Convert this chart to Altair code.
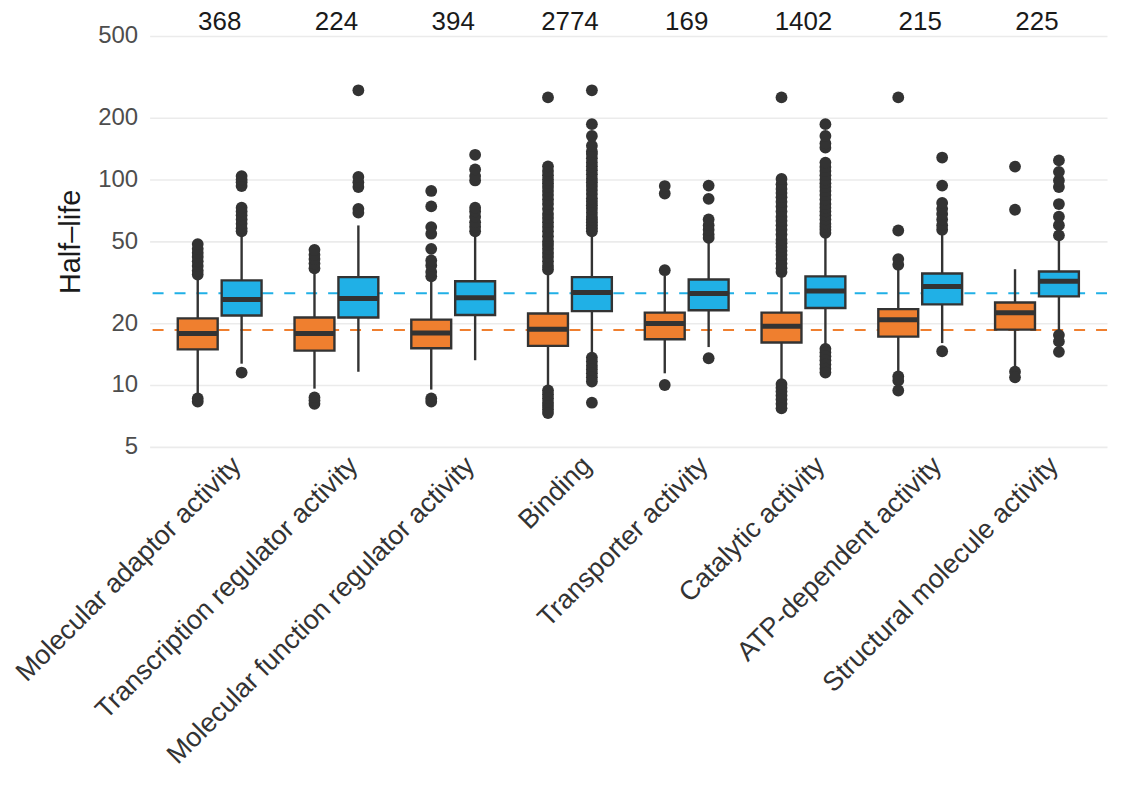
import altair as alt
import pandas as pd

categories = [
    "Molecular adaptor activity",
    "Transcription regulator activity",
    "Molecular function regulator activity",
    "Binding",
    "Transporter activity",
    "Catalytic activity",
    "ATP-dependent activity",
    "Structural molecule activity",
]
counts = [368, 224, 394, 2774, 169, 1402, 215, 225]
groups = ["Group A", "Group B"]
colors = ["#EF7F2F", "#20B0E6"]
ref_values = [18.5, 28.0]

# orange boxes (Group A)
a_lo = [9.1, 9.6, 9.5, 9.8, 11.4, 10.4, 11.6, 12.3]
a_q1 = [14.9, 14.7, 15.1, 15.5, 16.7, 16.1, 17.2, 18.6]
a_med = [17.8, 17.8, 17.9, 18.7, 19.9, 19.3, 20.8, 22.5]
a_q3 = [21.1, 21.3, 20.8, 22.3, 22.5, 22.5, 23.4, 25.2]
a_hi = [33.5, 35.5, 32.3, 35.5, 34.0, 34.9, 36.5, 36.6]
a_out = [
    [34.5, 36, 38, 40, 42, 44, 46, 48.5, 8.3, 8.6],
    [37, 39, 41, 43, 45.5, 8.1, 8.4, 8.7],
    [33.8, 35.5, 38.2, 40.4, 46, 54.5, 58.7, 74, 88, 8.3, 8.6],
    [36.5, 38, 40, 42, 44, 46, 48, 50, 53, 56, 59, 62, 65, 68, 72, 76, 80,
     84, 88, 92, 96, 100, 105, 110, 116, 251, 9.4, 9.0, 8.6, 8.2, 7.9, 7.6, 7.3],
    [36.2, 85.5, 93, 10.0],
    [35.5, 37, 39, 41, 43, 45, 47, 49, 51, 54, 57, 60, 63, 66, 70, 74, 78,
     82, 86, 90, 95, 100.7, 251, 10.1, 9.7, 9.3, 8.9, 8.5, 8.1, 7.7],
    [38.5, 41, 56.5, 251, 11.0, 10.5, 9.4],
    [71.3, 115.6, 11.6, 10.9],
]

# blue boxes (Group B)
b_lo = [12.7, 11.6, 13.2, 14.0, 15.3, 15.5, 16.0, 18.5]
b_q1 = [21.8, 21.3, 21.9, 22.9, 23.1, 23.7, 24.7, 27.0]
b_med = [26.1, 26.4, 26.6, 28.2, 27.9, 28.7, 30.2, 32.0]
b_q3 = [32.3, 33.5, 32.0, 33.5, 32.6, 33.8, 34.9, 35.7]
b_hi = [53.5, 59.8, 53.5, 54.5, 50.6, 53.5, 55.5, 50.6]
b_out = [
    [11.5, 56, 58, 61, 64, 67, 70, 73, 93, 97, 100, 104],
    [69, 72, 92, 97, 103, 272],
    [56, 59, 62, 66, 70, 73, 99, 104, 112, 132],
    [56, 58, 60, 62, 64, 66, 69, 72, 75, 78, 81, 85, 89, 93, 97, 101, 106,
     111, 116, 121, 127, 133, 137, 146, 163, 186, 272,
     13.6, 13.0, 12.4, 11.9, 11.4, 10.9, 10.4, 8.2],
    [52, 54, 57, 60, 64, 80.6, 93.5, 13.5],
    [55, 57, 59, 61, 64, 67, 70, 73, 76, 80, 84, 88, 92, 96, 100, 105, 110,
     115, 121, 143, 150, 163, 186, 15.0, 14.4, 13.8, 13.2, 12.6, 12.0, 11.5],
    [57, 60, 64, 68, 72, 77, 93.5, 128, 14.6],
    [53.5, 60, 66, 76, 92, 99, 109, 124, 17.5, 16.3, 14.5],
]

# ---- tables built from the arrays ----
box_rows = []
out_rows = []
for g, (lo, q1, med, q3, hi, outs) in zip(
    groups,
    [(a_lo, a_q1, a_med, a_q3, a_hi, a_out), (b_lo, b_q1, b_med, b_q3, b_hi, b_out)],
):
    for i, c in enumerate(categories):
        box_rows.append(dict(category=c, group=g, lo=lo[i], q1=q1[i], med=med[i], q3=q3[i], hi=hi[i]))
        for v in outs[i]:
            out_rows.append(dict(category=c, group=g, value=v))
boxes = pd.DataFrame(box_rows)
outliers = pd.DataFrame(out_rows)
count_df = pd.DataFrame(dict(category=categories, n=[str(n) for n in counts]))
ref_df = pd.DataFrame(dict(group=groups, value=ref_values))

FONT = "Liberation Sans"
DARK = "#333333"

yscale = alt.Scale(type="log", domain=[5, 500], nice=False)
xenc = alt.X(
    "category:N",
    sort=categories,
    scale=alt.Scale(paddingInner=0, paddingOuter=0.1),
    axis=alt.Axis(
        title=None, labelAngle=-45, labelAlign="right", labelBaseline="top",
        labelFontSize=27, labelColor="#333333", labelFont=FONT, labelLimit=600,
        labelPadding=5, labelOffset=8, domain=False, ticks=False, grid=False,
    ),
)
xoff = alt.XOffset("group:N", sort=groups, scale=alt.Scale(paddingInner=0, paddingOuter=0.33))
color = alt.Color("group:N", scale=alt.Scale(domain=groups, range=colors), legend=None)

yaxis = alt.Axis(
    title="Half\u2013life", values=[5, 10, 20, 50, 100, 200, 500], format="d",
    labelFontSize=24, labelColor="#4d4d4d", labelFont=FONT, labelPadding=12,
    grid=True, gridColor="#ebebeb", gridWidth=1.6, domain=False, ticks=False,
    titleFontSize=29, titleFontWeight="normal", titleColor="#1a1a1a", titleFont=FONT,
    titlePadding=12,
)

base_box = alt.Chart(boxes)

ref = alt.Chart(ref_df).mark_rule(strokeDash=[11, 11], strokeWidth=2).encode(
    y=alt.Y("value:Q", scale=yscale, axis=yaxis),
    color=color,
)

whisk_lo = base_box.mark_rule(color=DARK, strokeWidth=2.4).encode(
    x=xenc, xOffset=xoff,
    y=alt.Y("lo:Q", scale=yscale, axis=yaxis), y2="q1:Q",
)
whisk_hi = base_box.mark_rule(color=DARK, strokeWidth=2.4).encode(
    x=xenc, xOffset=xoff,
    y=alt.Y("q3:Q", scale=yscale, axis=yaxis), y2="hi:Q",
)
bars = base_box.mark_bar(width=40, stroke=DARK, strokeWidth=2.4).encode(
    x=xenc, xOffset=xoff,
    y=alt.Y("q1:Q", scale=yscale, axis=yaxis), y2="q3:Q",
    color=color,
)
medians = base_box.mark_tick(orient="horizontal", size=40, thickness=5, color=DARK, opacity=1).encode(
    x=xenc, xOffset=xoff,
    y=alt.Y("med:Q", scale=yscale, axis=yaxis),
)
points = alt.Chart(outliers).mark_circle(size=140, color=DARK, opacity=1).encode(
    x=xenc, xOffset=xoff,
    y=alt.Y("value:Q", scale=yscale, axis=yaxis),
)
texts = alt.Chart(count_df).mark_text(
    fontSize=26, font=FONT, color="#1a1a1a", baseline="middle", align="center"
).encode(
    x=xenc, y=alt.value(-14), text="n:N",
)

chart = alt.layer(ref, whisk_lo, whisk_hi, bars, medians, points, texts).properties(
    width=960, height=412,
    autosize=alt.AutoSizeParams(type="none"),
    padding={"left": 142, "top": 27, "right": 10, "bottom": 326},
).configure(
    font=FONT, background="white", view=alt.ViewConfig(stroke=None)
)

chart.save("out.html", embed_options={"renderer": "svg", "actions": False})
